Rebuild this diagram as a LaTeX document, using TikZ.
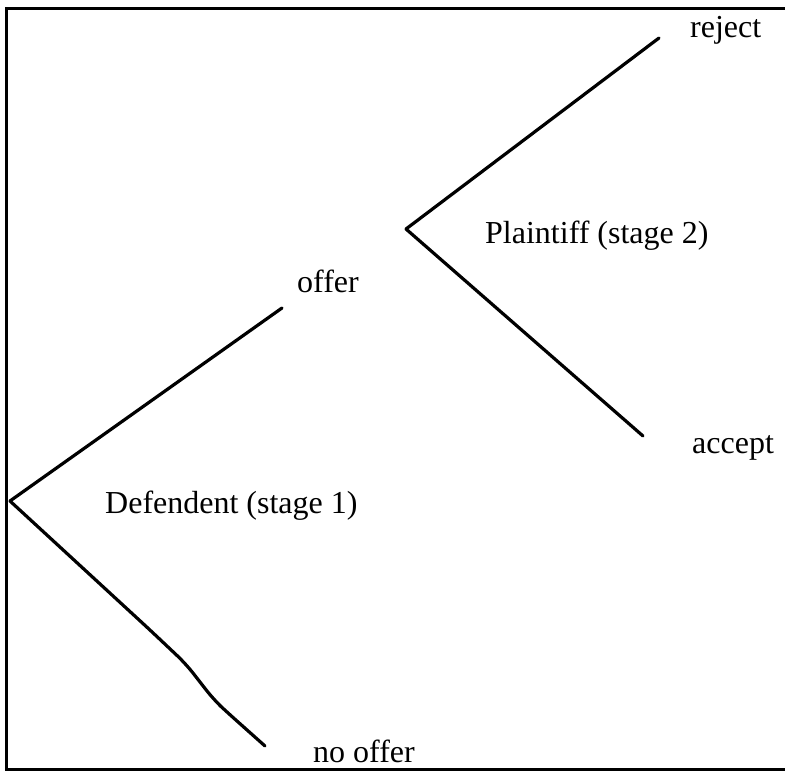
\documentclass[tikz,border=0pt]{standalone}
\usepackage{fontspec}
\setmainfont{Liberation Serif}
\begin{document}
\begin{tikzpicture}[x=1pt,y=-1pt,
  branch/.style={line width=3.2pt,line join=round,line cap=round},
  frame/.style={line width=3pt},
  lbl/.style={anchor=base west,inner sep=0pt,font=\fontsize{32}{38}\selectfont}]
\useasboundingbox (0,0) rectangle (785,771);
% frame (no right side)
\draw[frame] (785,8) -- (6,8) -- (6,769) -- (785,769);
% tree points
\coordinate (root) at (10,501);
\coordinate (offerend) at (282,308);
\coordinate (noofferend) at (265,746);
\coordinate (pl) at (406,229);
\coordinate (rejend) at (659,38);
\coordinate (accend) at (643,436);
% branches
\draw[branch] (root) -- (offerend);
\draw[branch,rounded corners=12pt] (root) -- (150,630) -- (186,664) -- (214,700) -- (228,713) -- (noofferend);
\draw[branch] (pl) -- (rejend);
\draw[branch] (pl) -- (accend);
% labels
\node[lbl] (offer) at (297,292) {offer};
\node[lbl] (def) at (105,513) {Defendent (stage 1)};
\node[lbl] (nooffer) at (313,762) {no offer};
\node[lbl] (reject) at (690,37) {reject};
\node[lbl] (plaintiff) at (485,243) {Plaintiff (stage 2)};
\node[lbl] (accept) at (692,453) {accept};
\end{tikzpicture}
\end{document}
